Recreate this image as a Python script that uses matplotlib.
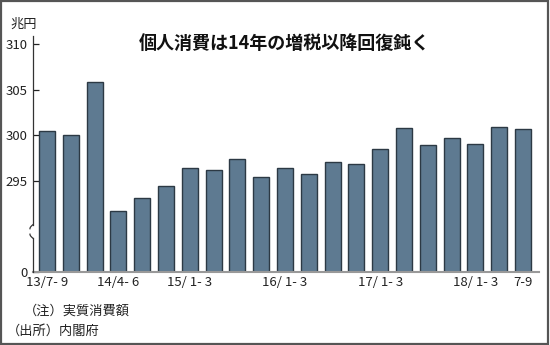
import numpy as np
import matplotlib
matplotlib.use("Agg")
import matplotlib.pyplot as plt
from matplotlib.patches import Rectangle

plt.rcParams['font.family'] = ['Noto Sans CJK JP', 'DejaVu Sans']

# ---- data ----
quarters = ["13/7-9", "13/10-12", "14/1-3", "14/4-6", "14/7-9", "14/10-12",
            "15/1-3", "15/4-6", "15/7-9", "15/10-12", "16/1-3", "16/4-6",
            "16/7-9", "16/10-12", "17/1-3", "17/4-6", "17/7-9", "17/10-12",
            "18/1-3", "18/4-6", "18/7-9"]
values = [300.45, 300.05, 305.9, 291.7, 293.1, 294.45, 296.4, 296.15, 297.4,
          295.4, 296.4, 295.8, 297.05, 296.9, 298.45, 300.75, 298.9, 299.65,
          299.0, 300.95, 300.65]
xtick_idx = [0, 3, 6, 10, 14, 18, 20]
xtick_labels = ["13/7- 9", "14/4- 6", "15/ 1- 3", "16/ 1- 3", "17/ 1- 3", "18/ 1- 3", "7-9"]
ytick_vals = [0, 295, 300, 305, 310]
ytick_labels = ["0", "295", "300", "305", "310"]

title = "個人消費は14年の増税以降回復鈍く"
unit = "兆円"
note1 = "（注）実質消費額"
note2 = "（出所）内閣府"

# ---- broken axis scale (0 .. 287.5 compressed) ----
BRK = 287.5
OFF = 285.0
def fwd(v):
    v = np.asarray(v, dtype=float)
    return np.where(v >= BRK, v - OFF, v * (BRK - OFF) / BRK)
def inv(p):
    p = np.asarray(p, dtype=float)
    return np.where(p >= BRK - OFF, p + OFF, p * BRK / (BRK - OFF))

fig = plt.figure(figsize=(5.5, 3.45), dpi=100)
ax = fig.add_axes([0.06, 0.2116, 0.92, 0.6841])
ax.set_yscale('function', functions=(fwd, inv))

bar_color = '#5e7a91'
edge_color = '#2c3944'
x = np.arange(len(values))
ax.bar(x, values, width=0.67, color=bar_color, edgecolor=edge_color, linewidth=1.0, zorder=3)

ax.set_xlim(-0.59, 20.67)
ax.set_ylim(0, 310.9)

ax.set_yticks(ytick_vals)
ax.set_yticklabels(ytick_labels)
ax.set_xticks(xtick_idx)
ax.set_xticklabels(xtick_labels)
ax.tick_params(axis='y', direction='in', length=4, width=0.9, pad=4,
               labelsize=9.5, colors='#222222')
ax.tick_params(axis='x', length=0, pad=3, labelsize=9.5, labelcolor='#222222')

for s in ['top', 'right', 'left']:
    ax.spines[s].set_visible(False)
ax.spines['bottom'].set_color('#999999')
ax.spines['bottom'].set_linewidth(1.5)
ax.spines['bottom'].set_zorder(4)

# left spine with break
ytr = ax.get_yaxis_transform()
gap_lo, gap_hi = 288.7, 290.2
ax.plot([0, 0], [0, gap_lo], color='#333333', lw=0.9, transform=ytr, clip_on=False, zorder=5)
ax.plot([0, 0], [gap_hi, 310.9], color='#333333', lw=0.9, transform=ytr, clip_on=False, zorder=5)
# squiggle marks
t = np.linspace(0, 1, 20)
dx = -0.006 * np.sin(t * np.pi / 2)
ax.plot(dx, gap_lo + 0.45 * t, color='#333333', lw=0.9, transform=ytr, clip_on=False, zorder=5)
ax.plot(dx, gap_hi - 0.45 * t, color='#333333', lw=0.9, transform=ytr, clip_on=False, zorder=5)

# texts
fig.text(0.518, 1 - 43 / 345, title, ha='center', va='center', fontsize=13, fontweight='bold', color='#111111')
fig.text(10 / 550, 1 - 24 / 345, unit, ha='left', va='center', fontsize=9.5, color='#222222')
fig.text(24 / 550, 1 - 311 / 345, note1, ha='left', va='center', fontsize=9.5, color='#222222')
fig.text(7 / 550, 1 - 331 / 345, note2, ha='left', va='center', fontsize=9.5, color='#222222')

# outer frame
fig.patches.append(Rectangle((0.002, 0.003), 0.994, 0.994, transform=fig.transFigure,
                             fill=False, edgecolor='#555555', linewidth=1.6))

fig.savefig('out.png', dpi=100)
